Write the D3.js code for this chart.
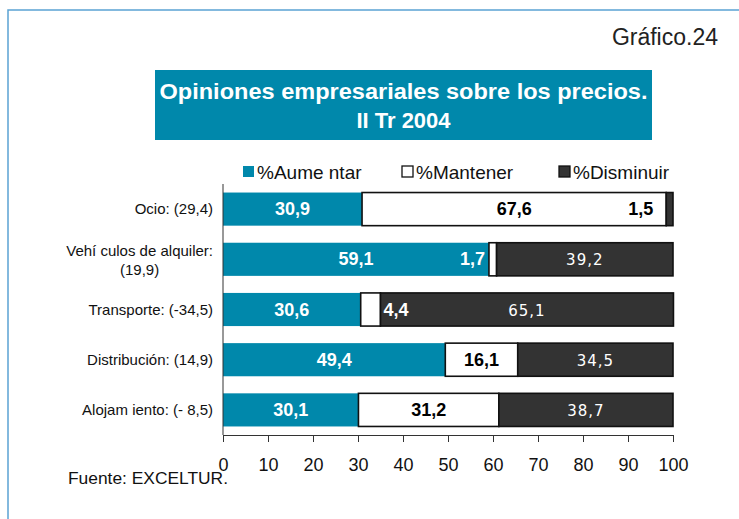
<!DOCTYPE html>
<html><head><meta charset="utf-8">
<script src="https://cdn.jsdelivr.net/npm/d3@7"></script>
<style>body{margin:0;background:#fff}svg{display:block}</style>
</head><body>
<svg id="c" width="739" height="519"></svg>
<script>
const categories = ["Ocio:", "Vehí culos de alquiler:", "Transporte:", "Distribución:", "Alojam iento:"];
const balances = ["(29,4)", "(19,9)", "(-34,5)", "(14,9)", "(- 8,5)"];
const seriesNames = ["%Aume ntar", "%Mantener", "%Disminuir"];
const aumentar = [30.9, 59.1, 30.6, 49.4, 30.1];
const mantener = [67.6, 1.7, 4.4, 16.1, 31.2];
const disminuir = [1.5, 39.2, 65.1, 34.5, 38.7];
const xTicks = [0, 10, 20, 30, 40, 50, 60, 70, 80, 90, 100];

const teal = "#0088AB", dark = "#333333";
const svg = d3.select("#c");
const SANS = "Liberation Sans, Arial, sans-serif";

// frame
svg.append("path").attr("d", "M8,519 L8,10 L739,10").attr("fill", "none")
  .attr("stroke", "#5BA3D3").attr("stroke-width", 1.5);

svg.append("text").attr("x", 718).attr("y", 45).attr("text-anchor", "end")
  .attr("font-family", SANS).attr("font-size", 23).attr("fill", "#222").text("Gráfico.24");

// title box
svg.append("rect").attr("x", 155).attr("y", 70).attr("width", 497).attr("height", 70).attr("fill", teal);
const tt = svg.append("text").attr("text-anchor", "middle").attr("fill", "#fff")
  .attr("font-family", SANS).attr("font-weight", "bold").attr("font-size", 22);
tt.append("tspan").attr("x", 403.5).attr("y", 99).attr("textLength", 488).attr("lengthAdjust", "spacingAndGlyphs")
  .text("Opiniones empresariales sobre los precios.");
tt.append("tspan").attr("x", 403.5).attr("y", 128).attr("textLength", 94).attr("lengthAdjust", "spacingAndGlyphs")
  .text("II Tr 2004");

const x = d3.scaleLinear().domain([0, 100]).range([223, 673]);
const y = d3.scaleBand().domain(d3.range(categories.length)).range([184, 435]).paddingInner(0.34).paddingOuter(0.17);

const rows = categories.map((c, i) => ({i, vals: [aumentar[i], mantener[i], disminuir[i]]}));
const fills = [teal, "#ffffff", dark];
const strokes = ["none", "#111", "#111"];

// bars
rows.forEach(r => {
  let acc = 0;
  r.vals.forEach((v, s) => {
    svg.append("rect").attr("x", x(acc)).attr("y", y(r.i)).attr("width", x(acc + v) - x(acc))
      .attr("height", y.bandwidth()).attr("fill", fills[s]).attr("stroke", strokes[s]).attr("stroke-width", 1.6);
    acc += v;
  });
});

// value labels
const special = {
  "0-2": {anchor: "end", ref: "start", dx: -13, color: "#000", bold: true},
  "1-1": {anchor: "end", ref: "start", dx: -4, color: "#fff", bold: true},
  "2-1": {anchor: "start", ref: "end", dx: 3, color: "#fff", bold: true}
};
const defaults = [
  {color: "#fff", bold: true}, {color: "#000", bold: true}, {color: "#fff", bold: false}
];
rows.forEach(r => {
  let acc = 0;
  r.vals.forEach((v, s) => {
    const sp = special[r.i + "-" + s];
    const d = defaults[s];
    let px = x(acc + v / 2), anchor = "middle", color = d.color, bold = d.bold;
    if (sp) {
      px = (sp.ref === "start" ? x(acc) : x(acc + v)) + sp.dx;
      anchor = sp.anchor; color = sp.color; bold = sp.bold;
    }
    const t = svg.append("text").attr("x", px).attr("y", y(r.i) + y.bandwidth() / 2 + 6)
      .attr("text-anchor", anchor).attr("fill", color)
      .text(v.toFixed(1).replace(".", ","));
    if (bold) {
      t.attr("font-family", SANS).attr("font-weight", "bold").attr("font-size", 18);
    } else {
      t.attr("font-family", "DejaVu Sans, Verdana, sans-serif").attr("font-size", 15).attr("letter-spacing", 1);
    }
    acc += v;
  });
});

// category labels
rows.forEach(r => {
  const cy = y(r.i) + y.bandwidth() / 2;
  const g = svg.append("g").attr("font-family", SANS).attr("font-size", 15).attr("fill", "#111");
  if (r.i === 1) {
    const t1 = g.append("text").attr("x", 213).attr("y", cy - 3).attr("text-anchor", "end").text(categories[r.i]);
    const w = t1.node().getComputedTextLength();
    g.append("text").attr("x", 213 - w / 2).attr("y", cy + 16).attr("text-anchor", "middle").text(balances[r.i]);
  } else {
    g.append("text").attr("x", 213).attr("y", cy + 5).attr("text-anchor", "end").text(categories[r.i] + " " + balances[r.i]);
  }
});

// axes
svg.append("line").attr("x1", 223).attr("x2", 223).attr("y1", 184).attr("y2", 435).attr("stroke", "#333").attr("stroke-width", 1);
const ax = svg.append("g").attr("transform", "translate(0,435)")
  .call(d3.axisBottom(x).tickValues(xTicks).tickSize(7).tickSizeOuter(0).tickPadding(16).tickFormat(d3.format("d")));
ax.select(".domain").attr("stroke", "#333");
ax.selectAll(".tick line").attr("stroke", "#333");
ax.selectAll("text").attr("font-family", SANS).attr("font-size", 18).attr("fill", "#111");

// legend
const lx = [243, 402, 559];
seriesNames.forEach((n, s) => {
  svg.append("rect").attr("x", lx[s]).attr("y", 166).attr("width", 11).attr("height", 11)
    .attr("fill", fills[s]).attr("stroke", s === 0 ? "none" : "#111").attr("stroke-width", 1.3);
  svg.append("text").attr("x", lx[s] + 14).attr("y", 179)
    .attr("font-family", SANS).attr("font-size", 19).attr("fill", "#111").text(n);
});

svg.append("text").attr("x", 68).attr("y", 484).attr("textLength", 160).attr("lengthAdjust", "spacingAndGlyphs")
  .attr("font-family", SANS).attr("font-size", 16).attr("fill", "#111").text("Fuente: EXCELTUR.");
</script>
</body></html>
